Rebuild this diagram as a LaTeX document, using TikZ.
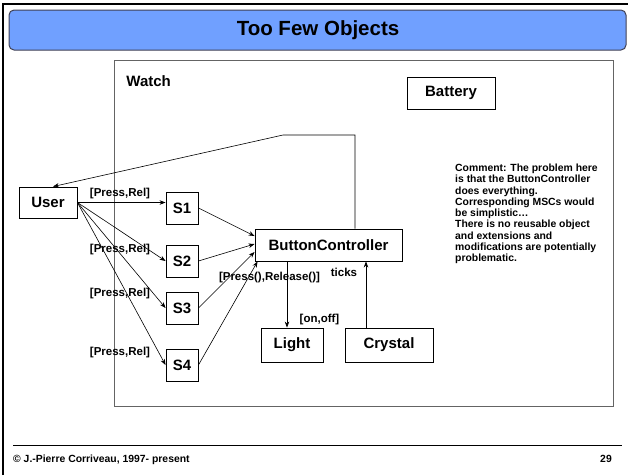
\documentclass[tikz,border=0pt]{standalone}
\usepackage{fontspec}
\setmainfont{Liberation Sans}
\usetikzlibrary{arrows.meta}

\definecolor{titleblue}{RGB}{112,160,255}
\definecolor{titleedge}{RGB}{64,64,84}
\definecolor{watchgray}{RGB}{100,100,100}

\begin{document}
\begin{tikzpicture}[x=1pt,y=-1pt,
    box/.style={draw, line width=0.9pt, inner sep=0pt,
      font=\bfseries\fontsize{15}{18}\selectfont},
    lbl/.style={inner sep=0pt, font=\bfseries\fontsize{11.5}{13}\selectfont},
    note/.style={inner sep=0pt, font=\bfseries\fontsize{10.4}{11.25}\selectfont},
    arr/.style={-{Stealth[length=6pt,width=4.5pt]}, line width=0.6pt}]
  \useasboundingbox (0,0) rectangle (628,475);%

  % frame and title bar
  \draw[line width=2pt] (3,475) -- (3,4) -- (628,4);%
  \draw[titleedge, fill=titleblue, line width=1pt, rounded corners=5pt]
    (9,10) rectangle (626,50);%
  \node[font=\bfseries\fontsize{20.5}{24}\selectfont] (title) at (318,30) {Too Few Objects};%

  % the watch
  \draw[watchgray, line width=0.9pt] (114,60) rectangle (613,406);%
  \node[box, draw=none, anchor=west] (watch) at (126,81) {Watch};%

  \node[box, minimum width=58pt, minimum height=31pt] (user) at (48,202.5) {User};%
  \foreach \n/\y in {1/208, 2/261, 3/308, 4/365} {%
    \node[box, minimum size=32pt] (s\n) at (182,\y) {S\n}; }%
  \node[box, minimum width=147pt, minimum height=32pt] (bc) at (328.5,245) {ButtonController};%
  \node[box, minimum width=62pt, minimum height=34pt] (light) at (292,345) {Light};%
  \node[box, minimum width=88pt, minimum height=34pt] (crystal) at (389,345) {Crystal};%
  \node[box, minimum width=88pt, minimum height=32pt] (battery) at (451,93) {Battery};%

  % user -> S1..S4
  \draw[arr] (user.east) -- (user.east -| s1.west);%
  \foreach \n in {2,3,4} { \draw[arr] (user.east) -- (s\n.west); }%
  \foreach \n/\y in {1/194, 2/250, 3/294, 4/353} {%
    \node[lbl] (pr\n) at (120,\y) {[Press,Rel]}; }%

  % S1..S4 -> ButtonController
  \foreach \n/\dy in {1/9, 2/1, 3/-7} { \draw[arr] (s\n.east) -- ([yshift=\dy pt]bc.west); }%
  \draw[arr] (s4.east) -- ([xshift=3pt]bc.south west);%
  \node[lbl] (prc) at (269.5,278) {[Press(),Release()]};%

  % ButtonController -> User
  \coordinate (up) at (355,135); \coordinate (kink) at (283,135);%
  \draw[arr] (up |- bc.north) -- (up) -- (kink) -- ([xshift=5pt]user.north);%

  % light and crystal
  \draw[arr] ([xshift=-5pt]light.north |- bc.south) -- ([xshift=-5pt]light.north);%
  \node[lbl] (onoff) at (319.5,320) {[on,off]};%
  \draw[arr] ([xshift=-23pt]crystal.north) -- ([xshift=-23pt]crystal.north |- bc.south);%
  \node[lbl] (ticks) at (344,272) {ticks};%

  % comment
  \node[note, anchor=north west, align=left] (comment) at (455,164)
    {Comment: The problem here\\ is that the ButtonController\\ does everything.\\
     Corresponding MSCs would\\ be simplistic\dots\\ There is no reusable object\\
     and extensions and\\ modifications are potentially\\ problematic.};%

  % footer
  \draw[line width=0.8pt] (13,445) -- (622,445);%
  \node[note, anchor=west] (copy) at (13,460) {© J.-Pierre Corriveau, 1997- present};%
  \node[note, anchor=east] (page) at (612,459) {29};%
\end{tikzpicture}
\end{document}
